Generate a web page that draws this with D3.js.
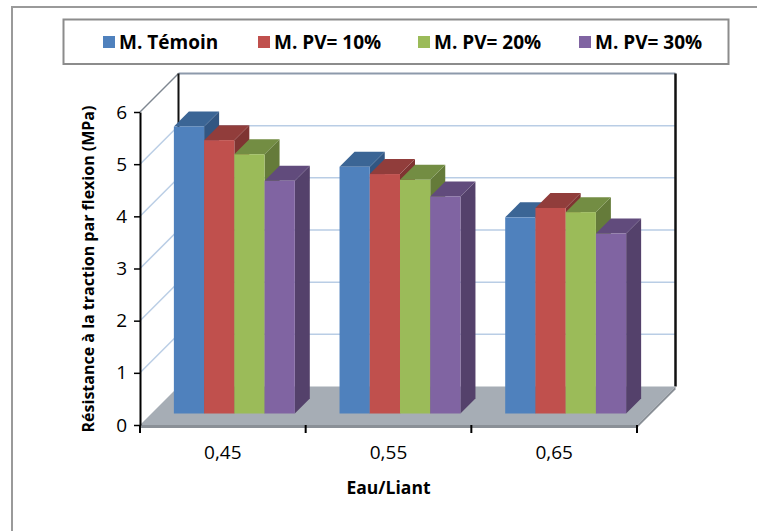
<!DOCTYPE html>
<html>
<head>
<meta charset="utf-8">
<script src="https://cdn.jsdelivr.net/npm/d3@7"></script>
<style>
  html, body { margin: 0; padding: 0; background: #ffffff; }
  svg { display: block; }
  text { font-family: "Open Sans", Lato, sans-serif; fill: #000; }
</style>
</head>
<body>
<svg id="chart" width="757" height="531"></svg>
<script>
// Flexural strength by water/binder ratio, four mortar mixes
const categories = ["0,45", "0,55", "0,65"];
const seriesNames = ["M. Témoin", "M. PV= 10%", "M. PV= 20%", "M. PV= 30%"];
const temoin = [5.50, 4.73, 3.76];
const pv10   = [5.24, 4.59, 3.94];
const pv20   = [4.97, 4.48, 3.86];
const pv30   = [4.46, 4.16, 3.45];
const yTicks = [0, 1, 2, 3, 4, 5, 6];
const yTitle = "Résistance à la traction par flexion (MPa)";
const xTitle = "Eau/Liant";

const seriesValues = [temoin, pv10, pv20, pv30];
const frontColors = ["#4f81bd", "#c0504d", "#9bbb59", "#8064a2"];
const topColors   = ["#3b6595", "#913d3b", "#738d43", "#614b7c"];
const sideColors  = ["#325682", "#7f3432", "#657b3a", "#54416b"];

const svg = d3.select("#chart");

// outer chart frame
svg.append("rect")
  .attr("x", 12).attr("y", 7).attr("width", 800).attr("height", 600)
  .attr("fill", "none").attr("stroke", "#9a9a9a").attr("stroke-width", 2);

// plot geometry (front plane + oblique depth)
const left = 140, right = 637, base = 425, topY = 112;
const D = 38.5;           // floor depth offset
const barFront = 11.5;    // depth of bar front faces
const barDepth = 15;      // depth of each bar

const y = d3.scaleLinear().domain([0, 6]).range([base, topY]);
const x0 = d3.scaleBand().domain(categories).range([left, right]).padding(0);
const x1 = d3.scaleBand().domain(seriesNames).range([0, x0.bandwidth()])
  .paddingInner(0).paddingOuter(0.74);

const g = svg.append("g");

// left side wall
g.append("path")
  .attr("d", `M${left},${base}L${left + D},${base - D}L${left + D},${topY - D}L${left},${topY}Z`)
  .attr("fill", "#ffffff");
// back wall
g.append("rect")
  .attr("x", left + D).attr("y", topY - D)
  .attr("width", right - left).attr("height", base - topY)
  .attr("fill", "#ffffff");

// gridlines on the walls
const gridVals = yTicks.filter(v => v > 0 && v < 6);
g.selectAll("line.gback").data(gridVals).join("line")
  .attr("class", "gback")
  .attr("x1", left + D).attr("x2", right + D)
  .attr("y1", v => y(v) - D).attr("y2", v => y(v) - D)
  .attr("stroke", "#b9cde5").attr("stroke-width", 1.5);
g.selectAll("line.gside").data(gridVals).join("line")
  .attr("class", "gside")
  .attr("x1", left).attr("x2", left + D)
  .attr("y1", v => y(v)).attr("y2", v => y(v) - D)
  .attr("stroke", "#b9cde5").attr("stroke-width", 1.5);

// wall edges
g.append("line")
  .attr("x1", left + D).attr("x2", right + D)
  .attr("y1", topY - D).attr("y2", topY - D)
  .attr("stroke", "#8d9aab").attr("stroke-width", 2);
g.append("line")
  .attr("x1", left).attr("x2", left + D)
  .attr("y1", topY).attr("y2", topY - D)
  .attr("stroke", "#7f8791").attr("stroke-width", 1.5);
g.append("line")
  .attr("x1", left + D).attr("x2", left + D)
  .attr("y1", topY - D).attr("y2", base - D)
  .attr("stroke", "#111").attr("stroke-width", 2);
g.append("line")
  .attr("x1", right + D).attr("x2", right + D)
  .attr("y1", topY - D).attr("y2", base - D)
  .attr("stroke", "#111").attr("stroke-width", 2.5);

// floor slab
const th = 3;
g.append("path")
  .attr("d", `M${left},${base}L${right},${base}L${right + D},${base - D}L${left + D},${base - D}Z`)
  .attr("fill", "#a6adb5");
g.append("path")
  .attr("d", `M${left},${base}L${right},${base}L${right},${base + th}L${left},${base + th}Z`)
  .attr("fill", "#8a9097");
g.append("path")
  .attr("d", `M${right},${base}L${right + D},${base - D}L${right + D},${base - D + th}L${right},${base + th}Z`)
  .attr("fill", "#8a9097");

// bars, painted left to right so each front face covers its neighbour's side
const bars = [];
categories.forEach((c, ci) => {
  seriesNames.forEach((s, si) => {
    bars.push({ c, s, si, v: seriesValues[si][ci] });
  });
});

const barG = g.append("g");
bars.forEach(b => {
  const bx = x0(b.c) + x1(b.s) + barFront;
  const w = x1.bandwidth();
  const yb = y(0) - barFront;
  const yt = y(b.v) - barFront;
  const k = barDepth;
  const bg = barG.append("g");
  // side face
  bg.append("path")
    .attr("d", `M${bx + w},${yb}L${bx + w + k},${yb - k}L${bx + w + k},${yt - k}L${bx + w},${yt}Z`)
    .attr("fill", sideColors[b.si]);
  // top face
  bg.append("path")
    .attr("d", `M${bx},${yt}L${bx + w},${yt}L${bx + w + k},${yt - k}L${bx + k},${yt - k}Z`)
    .attr("fill", topColors[b.si]);
  // front face
  bg.append("rect")
    .attr("x", bx).attr("y", yt).attr("width", w).attr("height", yb - yt)
    .attr("fill", frontColors[b.si]);
});

// y axis on the front left edge
const yAxis = d3.axisLeft(y).tickValues(yTicks).tickSize(6).tickSizeOuter(0)
  .tickFormat(d3.format("d"));
const yG = svg.append("g").attr("transform", `translate(${left},0)`).call(yAxis);
yG.select(".domain").attr("stroke", "#000").attr("stroke-width", 2);
yG.selectAll(".tick line").attr("stroke", "#000").attr("stroke-width", 1.5);
yG.selectAll(".tick text")
  .attr("x", -13)
  .style("font-size", "19px").style("font-family", "'Open Sans', sans-serif");

// x axis: category labels, boundary ticks
const xAxis = d3.axisBottom(x0).tickSize(0).tickPadding(21);
const xG = svg.append("g").attr("transform", `translate(0,${base})`).call(xAxis);
xG.select(".domain").remove();
xG.selectAll(".tick text")
  .style("font-size", "19px").style("font-family", "'Open Sans', sans-serif");
const bounds = categories.map(c => x0(c)).concat([x0.range()[1]]);
svg.append("g").selectAll("line").data(bounds).join("line")
  .attr("x1", d => d).attr("x2", d => d)
  .attr("y1", base).attr("y2", base + 8)
  .attr("stroke", "#000").attr("stroke-width", 2);

// axis titles
svg.append("text")
  .attr("transform", `translate(94,269) rotate(-90)`)
  .attr("text-anchor", "middle")
  .style("font-size", "16px").style("font-weight", "bold")
  .text(yTitle);
svg.append("text")
  .attr("x", (left + right) / 2).attr("y", 494)
  .attr("text-anchor", "middle")
  .style("font-size", "17.5px").style("font-weight", "bold")
  .text(xTitle);

// legend
svg.append("rect")
  .attr("x", 63.5).attr("y", 19.5).attr("width", 665).attr("height", 44.5)
  .attr("fill", "#fff").attr("stroke", "#8c8c8c").attr("stroke-width", 2);
const legendX = [103, 258, 418, 579];
const lg = svg.append("g").selectAll("g").data(seriesNames).join("g")
  .attr("transform", (d, i) => `translate(${legendX[i]},42)`);
lg.append("rect")
  .attr("x", 0).attr("y", -6).attr("width", 12).attr("height", 12)
  .attr("fill", (d, i) => frontColors[i]);
lg.append("text")
  .attr("x", 16).attr("y", 7)
  .style("font-size", "19px").style("font-weight", "bold")
  .text(d => d);
</script>
</body>
</html>
